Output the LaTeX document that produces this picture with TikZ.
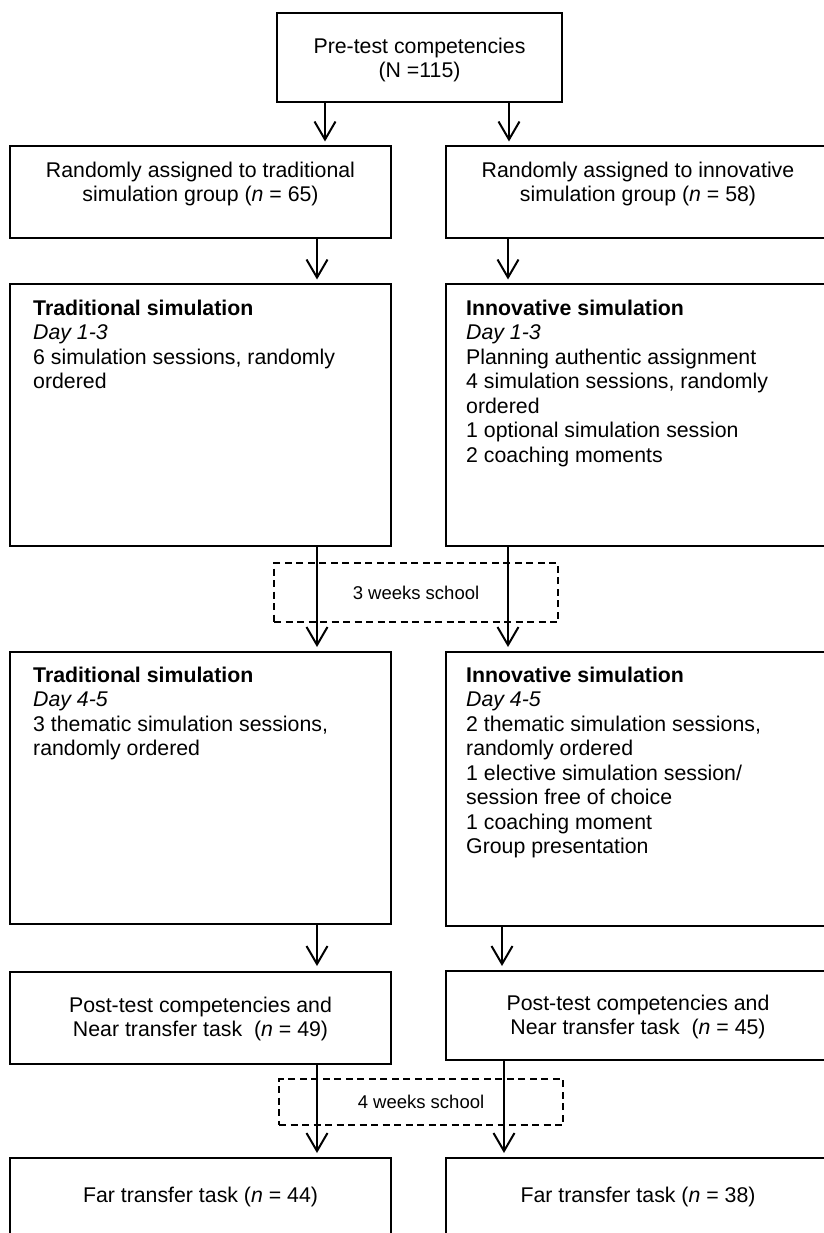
\documentclass[tikz,border=0pt]{standalone}
\usepackage{fontspec}
\setmainfont{Liberation Sans}
\usetikzlibrary{arrows.meta}
\newcommand\fs{\rule{0pt}{17pt}}
\begin{document}
\begin{tikzpicture}[x=1pt,y=-1pt,
  box/.style={draw, line width=2pt, rectangle, inner sep=0pt},
  dbox/.style={draw, line width=1.8pt, dash pattern=on 7pt off 4.5pt, rectangle, inner sep=0pt},
  txt/.style={inner sep=0pt, font=\fontsize{21.3}{24.5}\selectfont},
  stxt/.style={inner sep=0pt, font=\fontsize{18.5}{21}\selectfont},
  arr/.style={line width=2pt, -{Straight Barb[length=18pt,width=21pt,line width=2pt]}, shorten >=3.5pt}
]
\fill[white] (0,0) rectangle (823,1233);
\useasboundingbox (0,0) rectangle (823,1233);

% boxes
\node[box, minimum width=285pt, minimum height=89pt] (top) at (419.5,57.5) {};
\node[box, minimum width=381pt, minimum height=92pt] (r2L) at (200.5,192) {};
\node[box, minimum width=384pt, minimum height=92pt] (r2R) at (638,192) {};
\node[box, minimum width=381pt, minimum height=262pt] (r3L) at (200.5,415) {};
\node[box, minimum width=384pt, minimum height=262pt] (r3R) at (638,415) {};
\node[dbox, minimum width=284pt, minimum height=59pt] (d1) at (416,592.5) {};
\node[box, minimum width=381pt, minimum height=272pt] (r4L) at (200.5,788) {};
\node[box, minimum width=384pt, minimum height=274pt] (r4R) at (638,789) {};
\node[box, minimum width=381pt, minimum height=92pt] (pL) at (200.5,1018) {};
\node[box, minimum width=384pt, minimum height=89pt] (pR) at (638,1015.5) {};
\node[dbox, minimum width=284pt, minimum height=46pt] (d2) at (421,1102) {};
\node[box, minimum width=381pt, minimum height=102pt] (fL) at (200.5,1209) {};
\node[box, minimum width=384pt, minimum height=102pt] (fR) at (638,1209) {};

% texts
\node[txt, align=center, anchor=north] (t0) at (419.5,36) {\fs Pre-test competencies\\(N =115)};
\node[txt, align=center, anchor=north] (t2L) at (200.5,160) {\fs Randomly assigned to traditional\\simulation group (\textit{n} = 65)};
\node[txt, align=center, anchor=north] (t2R) at (638,160) {\fs Randomly assigned to innovative\\simulation group (\textit{n} = 58)};
\node[txt, align=left, anchor=north west] (t3L) at (33,298) {\fs\textbf{Traditional simulation}\\\textit{Day 1-3}\\6 simulation sessions, randomly\\ordered};
\node[txt, align=left, anchor=north west] (t3R) at (466,298) {\fs\textbf{Innovative simulation}\\\textit{Day 1-3}\\Planning authentic assignment\\4 simulation sessions, randomly\\ordered\\1 optional simulation session\\2 coaching moments};
\node[stxt] (td1) at (416,593) {3 weeks school};
\node[txt, align=left, anchor=north west] (t4L) at (33,665) {\fs\textbf{Traditional simulation}\\\textit{Day 4-5}\\3 thematic simulation sessions,\\randomly ordered};
\node[txt, align=left, anchor=north west] (t4R) at (466,665) {\fs\textbf{Innovative simulation}\\\textit{Day 4-5}\\2 thematic simulation sessions,\\randomly ordered\\1 elective simulation session/\\session free of choice\\1 coaching moment\\Group presentation};
\node[txt, align=center, anchor=north] (tpL) at (200.5,995) {\fs Post-test competencies and\\Near transfer task\ \ (\textit{n} = 49)};
\node[txt, align=center, anchor=north] (tpR) at (638,993) {\fs Post-test competencies and\\Near transfer task\ \ (\textit{n} = 45)};
\node[stxt] (td2) at (421,1102) {4 weeks school};
\node[txt, anchor=base] (tfL) at (200.5,1202) {Far transfer task (\textit{n} = 44)};
\node[txt, anchor=base] (tfR) at (638,1202) {Far transfer task (\textit{n} = 38)};

% arrow columns
\coordinate (a1) at (325,0);
\coordinate (a2) at (509,0);
\coordinate (b1) at (317,0);
\coordinate (b2) at (508,0);
\coordinate (c2) at (502,0);
\coordinate (e2) at (504,0);

\draw[arr] (a1 |- top.south) -- (a1 |- r2L.north);
\draw[arr] (a2 |- top.south) -- (a2 |- r2R.north);
\draw[arr] (b1 |- r2L.south) -- (b1 |- r3L.north);
\draw[arr] (b2 |- r2R.south) -- (b2 |- r3R.north);
\draw[arr, shorten >=4pt] (b1 |- r3L.south) -- (b1 |- r4L.north);
\draw[arr, shorten >=4pt] (b2 |- r3R.south) -- (b2 |- r4R.north);
\draw[arr, shorten >=5pt] (b1 |- r4L.south) -- (b1 |- pL.north);
\draw[arr, shorten >=4pt] (c2 |- r4R.south) -- (c2 |- pR.north);
\draw[arr, shorten >=4pt] (b1 |- pL.south) -- (b1 |- fL.north);
\draw[arr, shorten >=4pt] (e2 |- pR.south) -- (e2 |- fR.north);
\end{tikzpicture}
\end{document}
